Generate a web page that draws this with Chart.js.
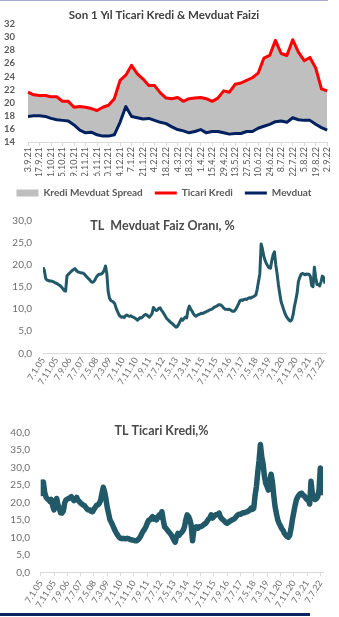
<!DOCTYPE html>
<html lang="tr">
<head>
<meta charset="utf-8">
<title>Ticari Kredi & Mevduat Faizi</title>
<script src="https://cdn.jsdelivr.net/npm/chart.js@4.4.0/dist/chart.umd.min.js"></script>
<style>
    html, body { margin: 0; padding: 0; background: #fff; }
    body { width: 339px; height: 617px; position: relative; overflow: hidden; }
    .box { position: absolute; left: 0; width: 339px; }
    .topline { position: absolute; left: 0; top: 0; width: 328px; height: 1px; background: #a9a9d6; }
    .bottombar { position: absolute; left: 0; top: 613px; width: 310px; height: 3px; background: #0b2461; }
</style>
</head>
<body>
<div class="topline"></div>
<div class="box" style="top:0;height:208px"><canvas id="spreadChart"></canvas></div>
<div class="box" style="top:200px;height:194px"><canvas id="mevduatChart"></canvas></div>
<div class="box" style="top:400px;height:212px"><canvas id="krediChart"></canvas></div>
<div class="bottombar"></div>

<script>
// Son 1 yil, haftalik
const WEEKS = ['3.9.21', '10.9.21', '17.9.21', '24.9.21', '1.10.21', '8.10.21', '15.10.21', '22.10.21',
    '29.10.21', '5.11.21', '12.11.21', '19.11.21', '26.11.21', '3.12.21', '10.12.21', '17.12.21',
    '24.12.21', '31.12.21', '7.1.22', '14.1.22', '21.1.22', '28.1.22', '4.2.22', '11.2.22',
    '18.2.22', '25.2.22', '4.3.22', '11.3.22', '18.3.22', '25.3.22', '1.4.22', '8.4.22',
    '15.4.22', '22.4.22', '29.4.22', '6.5.22', '13.5.22', '20.5.22', '27.5.22', '3.6.22',
    '10.6.22', '17.6.22', '24.6.22', '1.7.22', '8.7.22', '15.7.22', '22.7.22', '29.7.22',
    '5.8.22', '12.8.22', '19.8.22', '26.8.22', '2.9.22'];

const TICARI_KREDI_1Y = [21.6, 21.2, 21.1, 21.1, 20.9, 20.9, 20.2, 20.2, 19.3, 19.4,
    19.3, 19.1, 18.8, 19.3, 19.6, 20.6, 23.4, 24.2, 25.7, 24.4,
    23.6, 22.6, 22.6, 21.5, 20.7, 20.6, 20.8, 20.2, 20.6, 20.7,
    20.8, 20.6, 20.2, 20.7, 21.8, 21.6, 22.8, 23.0, 23.4, 23.8,
    24.5, 26.8, 27.2, 29.5, 27.5, 27.2, 29.6, 27.7, 26.4, 26.9,
    25.3, 22.1, 21.8];

const MEVDUAT_1Y = [17.9, 18.0, 18.0, 17.9, 17.6, 17.4, 17.3, 17.2, 16.6, 15.8,
    15.4, 15.5, 15.1, 14.9, 14.9, 15.1, 17.0, 19.4, 17.9, 17.7,
    17.5, 17.6, 17.3, 17.0, 16.8, 16.3, 15.9, 15.7, 15.4, 15.6,
    15.9, 15.4, 15.6, 15.6, 15.4, 15.2, 15.3, 15.3, 15.6, 15.6,
    16.1, 16.4, 16.7, 17.1, 17.2, 17.0, 17.7, 17.4, 17.3, 17.3,
    16.7, 16.2, 15.8];

// 2005-01 .. 2022-09, aylik; eksen etiketi her 10 ayda bir
const MONTH_TICKS = ['7.1.05', '7.11.05', '7.9.06', '7.7.07', '7.5.08', '7.3.09', '7.1.10', '7.11.10',
    '7.9.11', '7.7.12', '7.5.13', '7.3.14', '7.1.15', '7.11.15', '7.9.16', '7.7.17',
    '7.5.18', '7.3.19', '7.1.20', '7.11.20', '7.9.21', '7.7.22'];

const MEVDUAT_AYLIK = [
    19.5, 18.8, 17.0, 16.6, 16.5, 16.4, 16.4, 16.3, 16.2, 16.0, 15.9, 15.7,
    15.5, 15.3, 15.0, 14.6, 14.2, 14.1, 17.5, 17.9, 18.2, 18.5, 18.8, 19.0,
    19.2, 18.8, 18.5, 18.4, 18.3, 18.2, 18.2, 18.0, 17.6, 17.3, 17.0, 16.7,
    16.3, 16.1, 16.2, 16.6, 17.2, 17.6, 17.9, 17.9, 18.0, 18.3, 18.8, 19.8,
    18.0, 14.0, 12.5, 12.0, 11.8, 11.6, 11.2, 10.2, 9.5, 8.8, 8.4, 8.2,
    8.3, 8.1, 8.5, 8.7, 8.5, 8.4, 8.5, 8.3, 8.2, 8.0, 7.8, 7.5,
    7.8, 8.1, 8.0, 8.3, 8.6, 8.8, 8.7, 8.4, 8.2, 8.6, 9.0, 10.4,
    10.0, 9.7, 9.8, 10.2, 10.3, 9.8, 9.4, 8.9, 8.4, 7.9, 7.6, 7.3,
    7.0, 6.8, 6.5, 6.2, 5.9, 6.1, 6.6, 7.2, 7.8, 7.5, 7.9, 8.2,
    8.0, 9.8, 10.7, 10.0, 9.6, 9.0, 8.6, 8.4, 8.6, 8.8, 8.9, 9.1,
    9.0, 9.2, 9.3, 9.5, 9.6, 9.8, 9.9, 10.0, 10.3, 10.5, 10.6, 10.8,
    11.0, 11.0, 10.9, 10.6, 10.2, 10.0, 10.0, 9.9, 10.0, 9.8, 9.6, 9.5,
    9.6, 10.0, 10.6, 11.2, 11.9, 12.1, 12.0, 12.2, 12.3, 12.2, 12.4, 12.6,
    12.5, 12.7, 12.8, 13.0, 13.2, 14.5, 16.3, 18.0, 24.8, 23.6, 22.0, 21.0,
    20.3, 19.8, 19.4, 19.3, 21.0, 22.3, 23.0, 20.1, 18.0, 15.5, 13.5, 11.7,
    10.8, 9.8, 9.0, 8.3, 7.9, 7.5, 7.3, 7.6, 8.7, 10.6, 12.0, 13.6,
    16.3, 17.2, 17.9, 18.1, 18.0, 17.8, 18.0, 17.9, 17.9, 17.4, 15.3, 15.1,
    19.5, 17.2, 15.6, 15.6, 15.3, 16.2, 17.5, 17.2, 15.8];

const TICARI_KREDI_AYLIK = [
    26.5, 22.5, 25.8, 22.8, 21.5, 21.0, 20.7, 20.2, 20.8, 19.0, 17.8, 19.5,
    21.1, 19.2, 18.2, 17.0, 16.9, 17.5, 19.8, 20.7, 20.9, 21.1, 21.3, 21.6,
    21.0, 20.5, 20.8, 21.4, 20.6, 20.2, 19.8, 19.5, 19.2, 19.0, 18.5, 18.0,
    17.8, 17.8, 17.4, 17.3, 18.0, 18.6, 19.2, 19.3, 19.7, 20.5, 22.5, 24.3,
    23.0, 21.0, 18.5, 16.8, 15.0, 14.3, 13.5, 12.6, 11.8, 11.1, 10.5, 10.0,
    9.7, 9.6, 9.7, 9.6, 9.6, 9.7, 9.6, 9.4, 9.3, 9.2, 9.1, 9.0,
    9.0, 9.3, 9.7, 10.3, 11.1, 11.8, 12.3, 13.0, 14.0, 14.8, 15.0, 15.5,
    15.9, 15.2, 15.5, 15.0, 15.8, 16.4, 15.8, 17.3, 15.0, 13.0, 12.6, 12.1,
    11.6, 11.2, 10.7, 10.0, 9.2, 8.6, 10.2, 11.1, 10.6, 11.1, 11.5, 12.0,
    13.0, 15.0, 16.4, 16.0, 15.0, 13.5, 9.0, 12.0, 12.8, 13.0, 12.6, 13.0,
    13.0, 13.2, 13.5, 13.8, 14.0, 14.6, 15.2, 15.5, 16.4, 15.5, 15.9, 16.3,
    16.5, 16.6, 16.9, 15.8, 15.3, 15.0, 14.6, 14.2, 14.0, 14.3, 14.6, 14.8,
    15.0, 15.2, 15.5, 16.0, 16.4, 16.6, 16.6, 16.8, 17.0, 17.0, 17.2, 17.3,
    17.5, 17.8, 18.3, 18.0, 18.3, 22.0, 24.5, 28.5, 32.0, 36.5, 33.0, 31.0,
    27.5, 25.4, 24.5, 23.5, 26.0, 28.0, 25.9, 22.0, 18.8, 16.8, 15.0, 14.0,
    13.3, 12.5, 12.0, 11.1, 10.6, 10.2, 10.0, 10.6, 12.5, 15.0, 17.0, 19.0,
    20.7, 21.5, 22.1, 22.5, 22.6, 22.0, 21.8, 21.2, 20.8, 20.7, 19.5, 26.0,
    22.5, 21.6, 20.8, 21.0, 21.6, 23.5, 29.8, 28.5, 22.0];

const TEXT_GRAY = '#595959';
const TICK_GRAY = '#6d6d6d';
const AXIS_GRAY = '#d9d9d9';
const TEAL = '#215968';

Chart.defaults.font.family = "Lato, 'Open Sans', sans-serif";
Chart.defaults.animation = false;

function toPoints(values) {
    return values.map((v, i) => ({ x: i, y: v }));
}

function commaFmt(value) {
    return value.toFixed(1).replace('.', ',');
}

// ust grafik: spread alani + iki cizgi
new Chart(document.getElementById('spreadChart'), {
    type: 'line',
    data: {
        labels: WEEKS,
        datasets: [
            {
                label: 'Kredi Mevduat Spread',
                data: TICARI_KREDI_1Y,
                fill: 2,
                backgroundColor: '#bfbfbf',
                borderColor: 'rgba(0,0,0,0)',
                borderWidth: 0,
                pointRadius: 0,
                pointStyle: 'rect'
            },
            {
                label: 'Ticari Kredi',
                data: TICARI_KREDI_1Y,
                fill: false,
                borderColor: '#ff0000',
                backgroundColor: '#ff0000',
                borderWidth: 3,
                pointRadius: 0,
                pointStyle: 'line',
                borderJoinStyle: 'round'
            },
            {
                label: 'Mevduat',
                data: MEVDUAT_1Y,
                fill: false,
                borderColor: '#002060',
                backgroundColor: '#002060',
                borderWidth: 3,
                pointRadius: 0,
                pointStyle: 'line',
                borderJoinStyle: 'round'
            }
        ]
    },
    options: {
        responsive: true,
        maintainAspectRatio: false,
        layout: { padding: { left: 0, right: 11, top: 0, bottom: 0 } },
        plugins: {
            filler: { drawTime: 'beforeDatasetsDraw' },
            title: {
                display: true,
                text: 'Son 1 Yıl Ticari Kredi & Mevduat Faizi',
                color: '#404040',
                font: { size: 11.5, weight: 'bold' },
                padding: { top: 8, bottom: 2.2 }
            },
            legend: {
                position: 'bottom',
                labels: {
                    usePointStyle: true,
                    pointStyleWidth: 22,
                    boxWidth: 22,
                    boxHeight: 7,
                    padding: 12,
                    color: TEXT_GRAY,
                    font: { size: 10, weight: 'bold' }
                }
            },
            tooltip: { enabled: false }
        },
        scales: {
            x: {
                ticks: {
                    autoSkip: false,
                    minRotation: 90,
                    maxRotation: 90,
                    padding: 1,
                    color: TEXT_GRAY,
                    font: { size: 9 },
                    callback: function (value, index) {
                        return index % 2 === 0 ? this.getLabelForValue(value) : null;
                    }
                },
                grid: { display: true, drawOnChartArea: false, drawTicks: true, tickLength: 4, color: AXIS_GRAY },
                border: { display: true, color: AXIS_GRAY },
                afterFit: (s) => { s.height = 34; }
            },
            y: {
                min: 14,
                max: 32,
                ticks: { stepSize: 2, autoSkip: false, padding: 13, color: TEXT_GRAY, font: { size: 9.5, weight: 'bold' } },
                grid: { display: false, drawTicks: false },
                border: { display: false },
                afterFit: (s) => { s.width = 28; }
            }
        }
    }
});

function longChart(canvasId, title, values, opts) {
    return new Chart(document.getElementById(canvasId), {
        type: 'line',
        data: {
            datasets: [{
                label: title,
                data: toPoints(values),
                borderColor: TEAL,
                backgroundColor: TEAL,
                borderWidth: opts.lineWidth,
                pointRadius: 0,
                fill: false,
                borderJoinStyle: 'round'
            }]
        },
        options: {
            responsive: true,
            maintainAspectRatio: false,
            layout: { padding: { left: 0, right: opts.right, top: 0, bottom: 0 } },
            plugins: {
                legend: { display: false },
                tooltip: { enabled: false },
                title: {
                    display: true,
                    text: title,
                    color: '#4a4a4a',
                    font: { size: 12.5, weight: 'bold' },
                    padding: opts.titlePadding
                }
            },
            scales: {
                x: {
                    type: 'linear',
                    min: 0,
                    max: values.length - 1,
                    ticks: {
                        stepSize: 10,
                        maxTicksLimit: 30,
                        includeBounds: false,
                        autoSkip: false,
                        minRotation: 58,
                        maxRotation: 58,
                        padding: 2,
                        color: TICK_GRAY,
                        font: { size: 9 },
                        callback: (value) => (value % 10 === 0 ? MONTH_TICKS[value / 10] : null)
                    },
                    grid: opts.tickMarks
                        ? { display: true, drawOnChartArea: false, drawTicks: true, tickLength: 4, color: AXIS_GRAY }
                        : { display: false, drawTicks: false },
                    border: { display: true, color: AXIS_GRAY },
                    afterFit: (s) => { s.height = opts.xHeight; }
                },
                y: {
                    min: 0,
                    max: opts.yMax,
                    ticks: {
                        stepSize: 5,
                        autoSkip: false,
                        padding: opts.yPad,
                        color: TICK_GRAY,
                        font: { size: 10 },
                        callback: (value) => commaFmt(value)
                    },
                    grid: { display: false, drawTicks: false },
                    border: { display: false },
                    afterFit: (s) => { s.width = opts.yWidth; }
                }
            }
        }
    });
}

longChart('mevduatChart', 'TL  Mevduat Faiz Oranı, %', MEVDUAT_AYLIK, {
    lineWidth: 3,
    right: 14,
    yMax: 30,
    yWidth: 43,
    yPad: 11,
    xHeight: 40.7,
    tickMarks: false,
    titlePadding: { top: 18.5, bottom: -12.5 }
});

longChart('krediChart', 'TL Ticari Kredi,%', TICARI_KREDI_AYLIK, {
    lineWidth: 5.5,
    right: 16,
    yMax: 40,
    yWidth: 40.7,
    yPad: 10.7,
    xHeight: 39.7,
    tickMarks: true,
    titlePadding: { top: 23.2, bottom: -5.9 }
});
</script>
</body>
</html>
